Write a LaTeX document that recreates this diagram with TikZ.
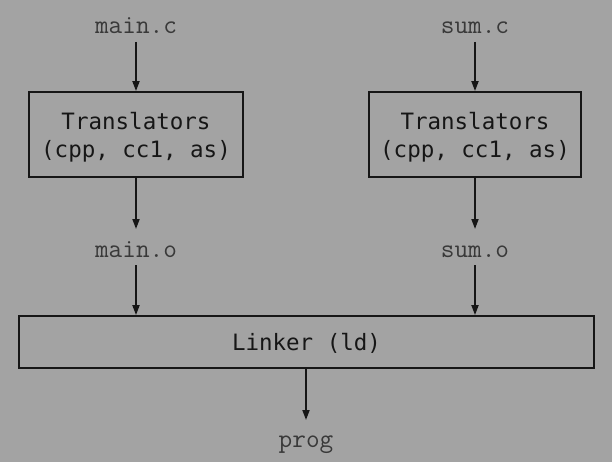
\documentclass[tikz,border=0pt]{standalone}
\usepackage{fontspec}
\newfontfamily\toolfont{DejaVu Sans Mono}
\usetikzlibrary{arrows.meta}
\definecolor{bggray}{RGB}{163,163,163}
\definecolor{ink}{RGB}{22,22,22}
\tikzset{
  file/.style={font=\ttfamily\fontsize{26.5}{28}\selectfont, text=ink!85, inner sep=0pt,
    text height=15pt, text depth=4pt, outer sep=4pt, anchor=base},
  tool/.style={draw=ink, line width=1.8pt, text=ink, align=center, inner sep=0pt,
    text depth=0pt, font=\toolfont\fontsize{22.5}{28}\selectfont},
  flow/.style={draw=ink, line width=1.8pt, -{Triangle[length=10pt,width=7pt]}},
}

\begin{document}
\begin{tikzpicture}
        \fill [bggray] (0pt, 0pt) rectangle (612pt, -462pt);
        \useasboundingbox (0pt, 0pt) rectangle (612pt, -462pt);
        \node (v0) [file] at (136pt, -34pt) {main.c};
        \node (v1) [file] at (475pt, -34pt) {sum.c};
        \node (v2) [tool, minimum width=214pt, minimum height=85pt] at (136pt, -134.5pt) {Translators\\(cpp, cc1, as)};
        \node (v3) [tool, minimum width=212pt, minimum height=85pt] at (475pt, -134.5pt) {Translators\\(cpp, cc1, as)};
        \node (v4) [file] at (136pt, -257pt) {main.o};
        \node (v5) [file] at (475pt, -257pt) {sum.o};
        \node (v6) [tool, minimum width=575pt, minimum height=52pt] at (306.5pt, -342pt) {Linker (ld)};
        \node (v7) [file] at (306pt, -447pt) {prog};
        \draw (v0) edge [flow] (v2);
        \draw (v1) edge [flow] (v3);
        \draw (v2) edge [flow, shorten >=9pt] (v4);
        \draw (v3) edge [flow, shorten >=9pt] (v5);
        \draw (v4) edge [flow] (v4 |- v6.north);
        \draw (v5) edge [flow] (v5 |- v6.north);
        \draw (v6.south -| v7) edge [flow, shorten >=8pt] (v7);
\end{tikzpicture}
\end{document}
